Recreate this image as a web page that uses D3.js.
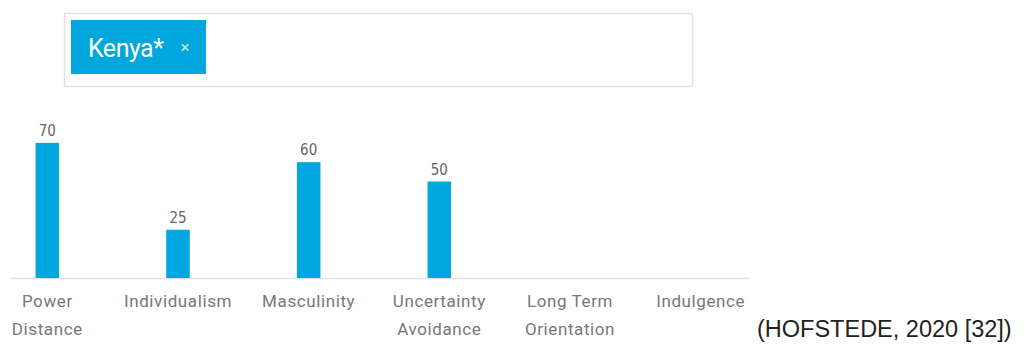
<!DOCTYPE html>
<html>
<head>
<meta charset="utf-8">
<script src="https://cdn.jsdelivr.net/npm/d3@7"></script>
<style>
  body { margin: 0; background: #fff; }
  svg { display: block; }
</style>
</head>
<body>
<div id="svgDiv"></div>
<script>
// Hofstede scores for Kenya (missing dimensions have no bar)
const dimensions = ['Power Distance', 'Individualism', 'Masculinity', 'Uncertainty Avoidance', 'Long Term Orientation', 'Indulgence']
const labelLines = [['Power', 'Distance'], ['Individualism'], ['Masculinity'], ['Uncertainty', 'Avoidance'], ['Long Term', 'Orientation'], ['Indulgence']]
const scores = [70, 25, 60, 50, null, null]
const country = 'Kenya*'
const source = '(HOFSTEDE, 2020 [32])'

var width = 1025,
    height = 345,
    baseY = 278,
    blue = '#00a6de';

var svg = d3.select('#svgDiv')
    .append('svg')
        .attr('width', width)
        .attr('height', height);

// country selector box with tag
{
svg.append('rect')
    .attr('x', 64.5).attr('y', 13.5)
    .attr('width', 628).attr('height', 73)
    .style('fill', '#fff')
    .style('stroke', '#e4e4e4')
    .style('stroke-width', 1.5);

svg.append('rect')
    .attr('x', 71).attr('y', 20)
    .attr('width', 135).attr('height', 54)
    .style('fill', blue);

svg.append('text')
    .attr('x', 88).attr('y', 57)
    .style('font-family', 'Roboto')
    .style('font-size', '25px')
    .style('letter-spacing', '-0.5px')
    .style('fill', '#fff')
    .text(country);

svg.append('text')
    .attr('x', 185).attr('y', 53)
    .attr('text-anchor', 'middle')
    .style('font-family', 'Roboto')
    .style('font-size', '17px')
    .style('fill', '#cfe6f0')
    .text('×');
}

// scales
var x = d3.scaleBand()
    .domain(dimensions)
    .range([-18, 766])
    .paddingInner(0.82)
    .paddingOuter(0.41);

var y = d3.scaleLinear()
    .domain([0, 100])
    .range([baseY, baseY - 193]);

// baseline
svg.append('line')
    .attr('x1', 10).attr('x2', 750)
    .attr('y1', baseY + 0.5).attr('y2', baseY + 0.5)
    .style('stroke', '#e2e2e2')
    .style('stroke-width', 1.5);

var data = dimensions.map((d, i) => ({name: d, value: scores[i], lines: labelLines[i]}));

// bars
svg.append('g')
    .selectAll('rect')
    .data(data.filter(d => d.value != null))
    .join('rect')
    .attr('x', d => x(d.name))
    .attr('y', d => y(d.value))
    .attr('width', x.bandwidth())
    .attr('height', d => y(0) - y(d.value))
    .style('fill', blue);

// value labels
svg.append('g')
    .selectAll('text')
    .data(data.filter(d => d.value != null))
    .join('text')
    .attr('x', d => x(d.name) + x.bandwidth() / 2)
    .attr('y', d => y(d.value) - 7)
    .attr('text-anchor', 'middle')
    .style('font-family', 'DejaVu Sans Condensed')
    .style('font-size', '15px')
    .style('fill', '#666')
    .text(d => d.value);

// category labels
var cats = svg.append('g')
    .selectAll('text')
    .data(data)
    .join('text')
    .attr('text-anchor', 'middle')
    .style('font-family', 'Roboto')
    .style('font-size', '17px')
    .style('letter-spacing', '0.6px')
    .style('fill', '#777');

cats.selectAll('tspan')
    .data(d => d.lines.map(l => ({l: l, cx: x(d.name) + x.bandwidth() / 2})))
    .join('tspan')
    .attr('x', d => d.cx)
    .attr('y', (d, i) => 307 + i * 28)
    .text(d => d.l);

// source note
svg.append('text')
    .attr('x', 757).attr('y', 337)
    .style('font-family', 'Liberation Sans')
    .style('font-size', '23.5px')
    .style('fill', '#222')
    .text(source);
</script>
</body>
</html>
